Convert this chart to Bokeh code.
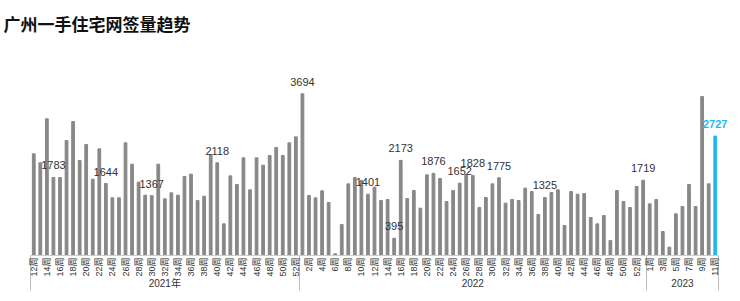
from math import pi
from bokeh.plotting import figure
from bokeh.models import ColumnDataSource, Range1d, LinearAxis, FixedTicker
from bokeh.embed import file_html
from bokeh.resources import INLINE
from bokeh.core.properties import value

title_text = "广州一手住宅网签量趋势"
years = ["2021年", "2022", "2023"]
weeks_2021 = list(range(12, 53))
weeks_2022 = list(range(1, 54))
weeks_2023 = list(range(1, 12))
week_suffix = "周"

vals_2021 = [2323, 2117, 3122, 1783, 1780, 2627, 3060, 2170, 2535, 1743,
             2436, 1644, 1317, 1317, 2573, 2086, 1675, 1378, 1367, 2086,
             1294, 1431, 1378, 1804, 1857, 1256, 1355, 2307, 2118, 723,
             1819, 1622, 2231, 1500, 2231, 2063, 2284, 2467, 2284, 2573,
             2710]
vals_2022 = [3694, 1370, 1317, 1477, 1210, 40, 708, 1637, 1783, 1713,
             1401, 1560, 1256, 1279, 395, 2173, 1302, 1485, 1081, 1842,
             1876, 1759, 1233, 1485, 1652, 1850, 1828, 1096, 1325, 1637,
             1775, 1195, 1279, 1256, 1538, 1462, 936, 1325, 1439, 1500,
             685, 1462, 1401, 1416, 868, 723, 914, 343, 1485, 1233,
             1096, 1576, 1719]
vals_2023 = [1180, 1279, 548, 190, 952, 1119, 1622, 1119, 3632, 1637, 2727]

# (year, week) of the bars whose value is printed
annotated = [("2021年", 15), ("2021年", 23), ("2021年", 30), ("2021年", 40),
             ("2022", 1), ("2022", 11), ("2022", 15), ("2022", 16),
             ("2022", 21), ("2022", 25), ("2022", 27), ("2022", 31),
             ("2022", 38), ("2022", 53), ("2023", 11)]
highlight = ("2023", 11)

BAR = "#888888"
BLUE = "#1fb8f5"

groups = [(years[0], weeks_2021, vals_2021),
          (years[1], weeks_2022, vals_2022),
          (years[2], weeks_2023, vals_2023)]

xs, tops, colors, keys, week_labels = [], [], [], [], []
group_bounds, group_centers = [], []
idx = 0
for yr, wks, vals in groups:
    start = idx
    for w, v in zip(wks, vals):
        xs.append(idx)
        tops.append(v)
        colors.append(BLUE if (yr, w) == highlight else BAR)
        keys.append((yr, w))
        week_labels.append(f"{w}{week_suffix}")
        idx += 1
    group_bounds.append(start - 0.5)
    group_centers.append((start + idx - 1) / 2)
group_bounds.append(idx - 0.5)
n = idx

src = ColumnDataSource(dict(x=xs, top=tops, color=colors))

lab = dict(x=[], y=[], t=[])
hlab = dict(x=[], y=[], t=[])
for x, v, k in zip(xs, tops, keys):
    if k in annotated:
        d = hlab if k == highlight else lab
        d["x"].append(x); d["y"].append(v); d["t"].append(str(v))

# frame: 710 px wide, bars occupy the first 688 px
x_end = -0.5 + n * 710 / 688
p = figure(x_range=Range1d(-0.5, x_end), y_range=Range1d(0, 4911),
           width=740, height=301, output_backend="svg", toolbar_location=None,
           x_axis_location=None,
           min_border_left=30, min_border_right=0, min_border_top=40,
           min_border_bottom=46)

p.vbar(x="x", top="top", width=0.42, color="color", source=src)

p.text(x="x", y="y", text="t", source=ColumnDataSource(lab),
       text_align="center", text_baseline="bottom", y_offset=-8,
       text_font=value("Liberation Sans"), text_font_size="11px",
       text_color="#333333")
p.text(x="x", y="y", text="t", source=ColumnDataSource(hlab),
       text_align="center", text_baseline="bottom", y_offset=-8,
       text_font=value("Liberation Sans"), text_font_size="11px",
       text_font_style="bold", text_color=BLUE)

p.title.text = title_text
p.title.text_font = "Noto Sans CJK SC"
p.title.text_font_size = "17px"
p.title.text_font_style = "bold"
p.title.text_color = "#111111"
p.title.offset = -27

SEP = 35
tick_idx = [i for i in xs if i % 2 == 0]
wk_axis = LinearAxis(
    ticker=FixedTicker(ticks=tick_idx, minor_ticks=group_bounds),
    major_label_overrides={i: week_labels[i] for i in tick_idx},
    bounds=(-0.5, n - 0.5),
    major_label_orientation=pi / 2,
    major_label_text_font="Liberation Sans, Noto Sans CJK SC",
    major_label_text_font_size="9px",
    major_label_text_color="#333333",
    major_label_standoff=2 - SEP,
    major_tick_line_color=None,
    major_tick_in=0, major_tick_out=0,
    minor_tick_in=0, minor_tick_out=SEP,
    minor_tick_line_color="#bbbbbb",
    axis_line_color="#cccccc",
)
p.add_layout(wk_axis, "below")

yr_axis = LinearAxis(
    ticker=FixedTicker(ticks=group_centers, minor_ticks=[]),
    major_label_overrides={c: y for c, y in zip(group_centers, years)},
    major_label_text_font="Liberation Sans, Noto Sans CJK SC",
    major_label_text_font_size="10px",
    major_label_text_color="#333333",
    major_label_standoff=-2,
    major_tick_line_color=None,
    major_tick_in=0, major_tick_out=0,
    axis_line_color=None,
)
p.add_layout(yr_axis, "below")

p.yaxis.visible = False
p.grid.visible = False
p.outline_line_color = None

open("out.html", "w").write(file_html(p, INLINE))
